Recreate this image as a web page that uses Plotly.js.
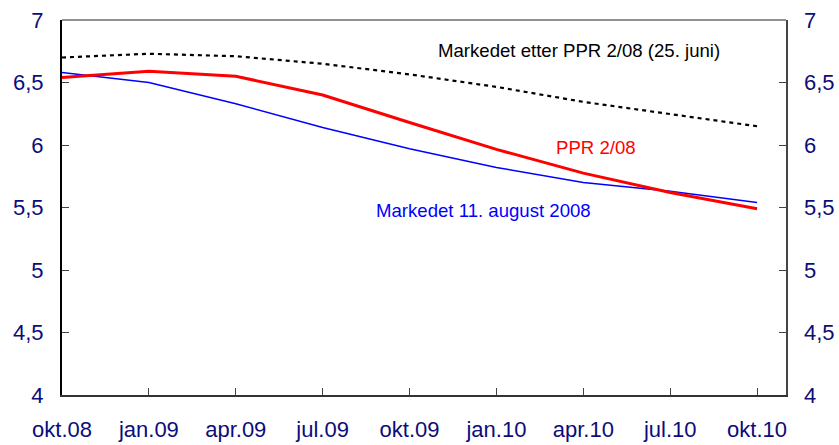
<!DOCTYPE html>
<html>
<head>
<meta charset="utf-8">
<script src="https://cdn.plot.ly/plotly-3.0.1.min.js"></script>
<style>html,body{margin:0;padding:0;background:#fff;}#chart{width:839px;height:445px;}</style>
</head>
<body>
<div id="chart"></div>
<script>
// Quarter index (0 = okt.08)
const quarters = [0, 1, 2, 3, 4, 5, 6, 7, 8];
const tickLabels = ["okt.08", "jan.09", "apr.09", "jul.09", "okt.09", "jan.10", "apr.10", "jul.10", "okt.10"];
const ppr208 = [6.54, 6.59, 6.55, 6.40, 6.18, 5.965, 5.775, 5.62, 5.49];
const markedAug = [6.58, 6.50, 6.33, 6.14, 5.97, 5.82, 5.70, 5.63, 5.54];
const markedJuni = [6.70, 6.73, 6.71, 6.65, 6.565, 6.465, 6.345, 6.25, 6.15];
const yTicks = [4, 4.5, 5, 5.5, 6, 6.5, 7];
const yTickText = ["4", "4,5", "5", "5,5", "6", "6,5", "7"];

const labelColor = "#0c0c7a";
const font = "Liberation Sans, Arial, sans-serif";

const traces = [
  {x: quarters, y: markedJuni, type: "scatter", mode: "lines",
   line: {color: "#000000", width: 2.2, dash: "4px,4px"}, hoverinfo: "skip"},
  {x: quarters, y: markedAug, type: "scatter", mode: "lines",
   line: {color: "#0000ff", width: 1.5}, hoverinfo: "skip"},
  {x: quarters, y: ppr208, type: "scatter", mode: "lines",
   line: {color: "#ff0000", width: 3}, hoverinfo: "skip"},
  // empty trace so the right-hand axis is drawn
  {x: [], y: [], type: "scatter", mode: "lines", yaxis: "y2", hoverinfo: "skip"}
];

const layout = {
  width: 839, height: 445,
  margin: {l: 62, r: 53, t: 20, b: 50, pad: 0},
  paper_bgcolor: "#ffffff", plot_bgcolor: "#ffffff",
  showlegend: false,
  font: {family: font, size: 22, color: labelColor},
  xaxis: {
    range: [0, 8.333], tickmode: "array", tickvals: quarters, ticktext: tickLabels,
    ticks: "inside", ticklen: 7, tickwidth: 1, tickcolor: "#444444",
    showgrid: false, zeroline: false, showline: true, linecolor: "#333333", linewidth: 2,
    mirror: false, tickfont: {family: font, size: 22, color: labelColor},
    ticklabelstandoff: 14, fixedrange: true
  },
  yaxis: {
    range: [4, 7], tickmode: "array", tickvals: yTicks, ticktext: yTickText,
    ticks: "inside", ticklen: 7, tickwidth: 1, tickcolor: "#444444",
    showgrid: false, zeroline: false, showline: true, linecolor: "#000000", linewidth: 2,
    tickfont: {family: font, size: 22, color: labelColor},
    ticklabelstandoff: 12, fixedrange: true
  },
  yaxis2: {
    range: [4, 7], overlaying: "y", side: "right", tickmode: "array", tickvals: yTicks, ticktext: yTickText,
    ticks: "inside", ticklen: 7, tickwidth: 1, tickcolor: "#444444",
    showgrid: false, zeroline: false, showline: true, linecolor: "#444444", linewidth: 1.5,
    tickfont: {family: font, size: 22, color: labelColor},
    ticklabelstandoff: 12, fixedrange: true
  },
  shapes: [
    {type: "line", xref: "paper", yref: "paper", x0: 0, x1: 1, y0: 1, y1: 1,
     line: {color: "#222222", width: 1}}
  ],
  annotations: [
    {x: 5.95, y: 6.76, xref: "x", yref: "y", text: "Markedet etter PPR 2/08 (25. juni)", showarrow: false,
     font: {family: font, size: 18.6, color: "#000000"}},
    {x: 6.15, y: 5.98, xref: "x", yref: "y", text: "PPR 2/08", showarrow: false,
     font: {family: font, size: 18.6, color: "#ff0000"}},
    {x: 4.85, y: 5.48, xref: "x", yref: "y", text: "Markedet 11. august 2008", showarrow: false,
     font: {family: font, size: 18.6, color: "#0000ff"}}
  ]
};

Plotly.newPlot("chart", traces, layout, {displayModeBar: false, staticPlot: true});
</script>
</body>
</html>
